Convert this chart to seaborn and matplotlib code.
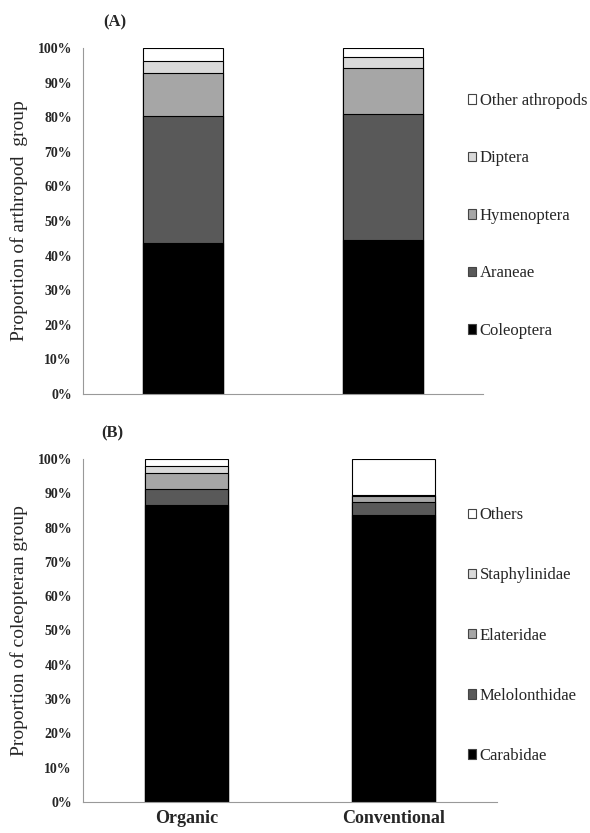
import numpy as np
import pandas as pd
import matplotlib
matplotlib.use('Agg')
import matplotlib.pyplot as plt
import seaborn as sns
from matplotlib.patches import Patch

# Data (percent of total)
sites = ['Organic', 'Conventional']

arthropod_groups = ['Coleoptera', 'Araneae', 'Hymenoptera', 'Diptera', 'Other athropods']
arthropod_organic = [43.6, 36.7, 12.4, 3.6, 3.7]
arthropod_conventional = [44.5, 36.3, 13.3, 3.4, 2.5]

beetle_groups = ['Carabidae', 'Melolonthidae', 'Elateridae', 'Staphylinidae', 'Others']
beetle_organic = [86.6, 4.6, 4.6, 2.2, 2.0]
beetle_conventional = [83.7, 3.7, 1.7, 0.5, 10.4]

group_colors = ['#000000', '#595959', '#a6a6a6', '#d9d9d9', '#ffffff']

sns.set_style("white")
plt.rcParams['font.family'] = ['Liberation Serif', 'DejaVu Serif']

fig = plt.figure(figsize=(5.9, 8.33), dpi=100)
ax_a = fig.add_axes([0.1407, 0.527, 0.678, 0.4154])
ax_b = fig.add_axes([0.1407, 0.0372, 0.7017, 0.4118])


def stacked_panel(ax, groups, organic, conventional, ylabel, tag, show_x,
                  leg_y, leg_space, lab_x, tag_x):
    df = pd.DataFrame({'Site': sites})
    for g, o, c in zip(groups, organic, conventional):
        df[g] = [o, c]
    cum = df[groups].cumsum(axis=1)
    # draw tallest cumulative first so lower segments sit on top
    for g, col in reversed(list(zip(groups, group_colors))):
        sns.barplot(x=df['Site'], y=cum[g], color=col, saturation=1, width=0.4,
                    edgecolor='black', linewidth=0.8, ax=ax)
    ax.set_xlim(-0.5, 1.5)
    ax.set_ylim(0, 100)
    ax.set_yticks(np.arange(0, 101, 10))
    ax.set_yticklabels([f'{v}%' for v in range(0, 101, 10)], fontweight='bold', fontsize=10)
    ax.tick_params(axis='y', direction='in', length=3, width=0.8, color='#999999', pad=8)
    ax.set_xticks([0, 1])
    ax.set_xticks([-0.5, 0.5, 1.5], minor=True)
    if show_x:
        ax.set_xticklabels(sites, fontweight='bold', fontsize=13)
    else:
        ax.set_xticklabels(['', ''])
    ax.tick_params(axis='x', which='major', length=0, pad=6)
    ax.tick_params(axis='x', which='minor', direction='out', length=4, width=0.8, color='#999999')
    ax.set_xlabel('')
    ax.set_ylabel(ylabel, fontsize=14)
    ax.yaxis.set_label_coords(lab_x, 0.5)
    for side in ['top', 'right']:
        ax.spines[side].set_visible(False)
    for side in ['left', 'bottom']:
        ax.spines[side].set_color('#999999')
        ax.spines[side].set_linewidth(0.8)
    ax.text(tag_x, 1.075, tag, transform=ax.transAxes, fontsize=12,
            fontweight='bold', ha='center', va='center')

    handles = [Patch(facecolor=c, edgecolor='#444444', linewidth=0.8, label=g)
               for g, c in zip(groups, group_colors)]
    fig.legend(handles=handles[::-1], loc='center left', bbox_to_anchor=(0.793, leg_y),
               frameon=False, fontsize=12, labelspacing=leg_space, handlelength=0.5,
               handleheight=0.5, handletextpad=0.2, borderpad=0, borderaxespad=0)


stacked_panel(ax_a, arthropod_groups, arthropod_organic, arthropod_conventional,
              'Proportion of arthropod  group', '(A)', False, 0.741, 2.49, -0.1375, 0.08)
stacked_panel(ax_b, beetle_groups, beetle_organic, beetle_conventional,
              'Proportion of coleopteran group', '(B)', True, 0.237, 2.65, -0.133, 0.07)

fig.savefig('out.png', dpi=100)
